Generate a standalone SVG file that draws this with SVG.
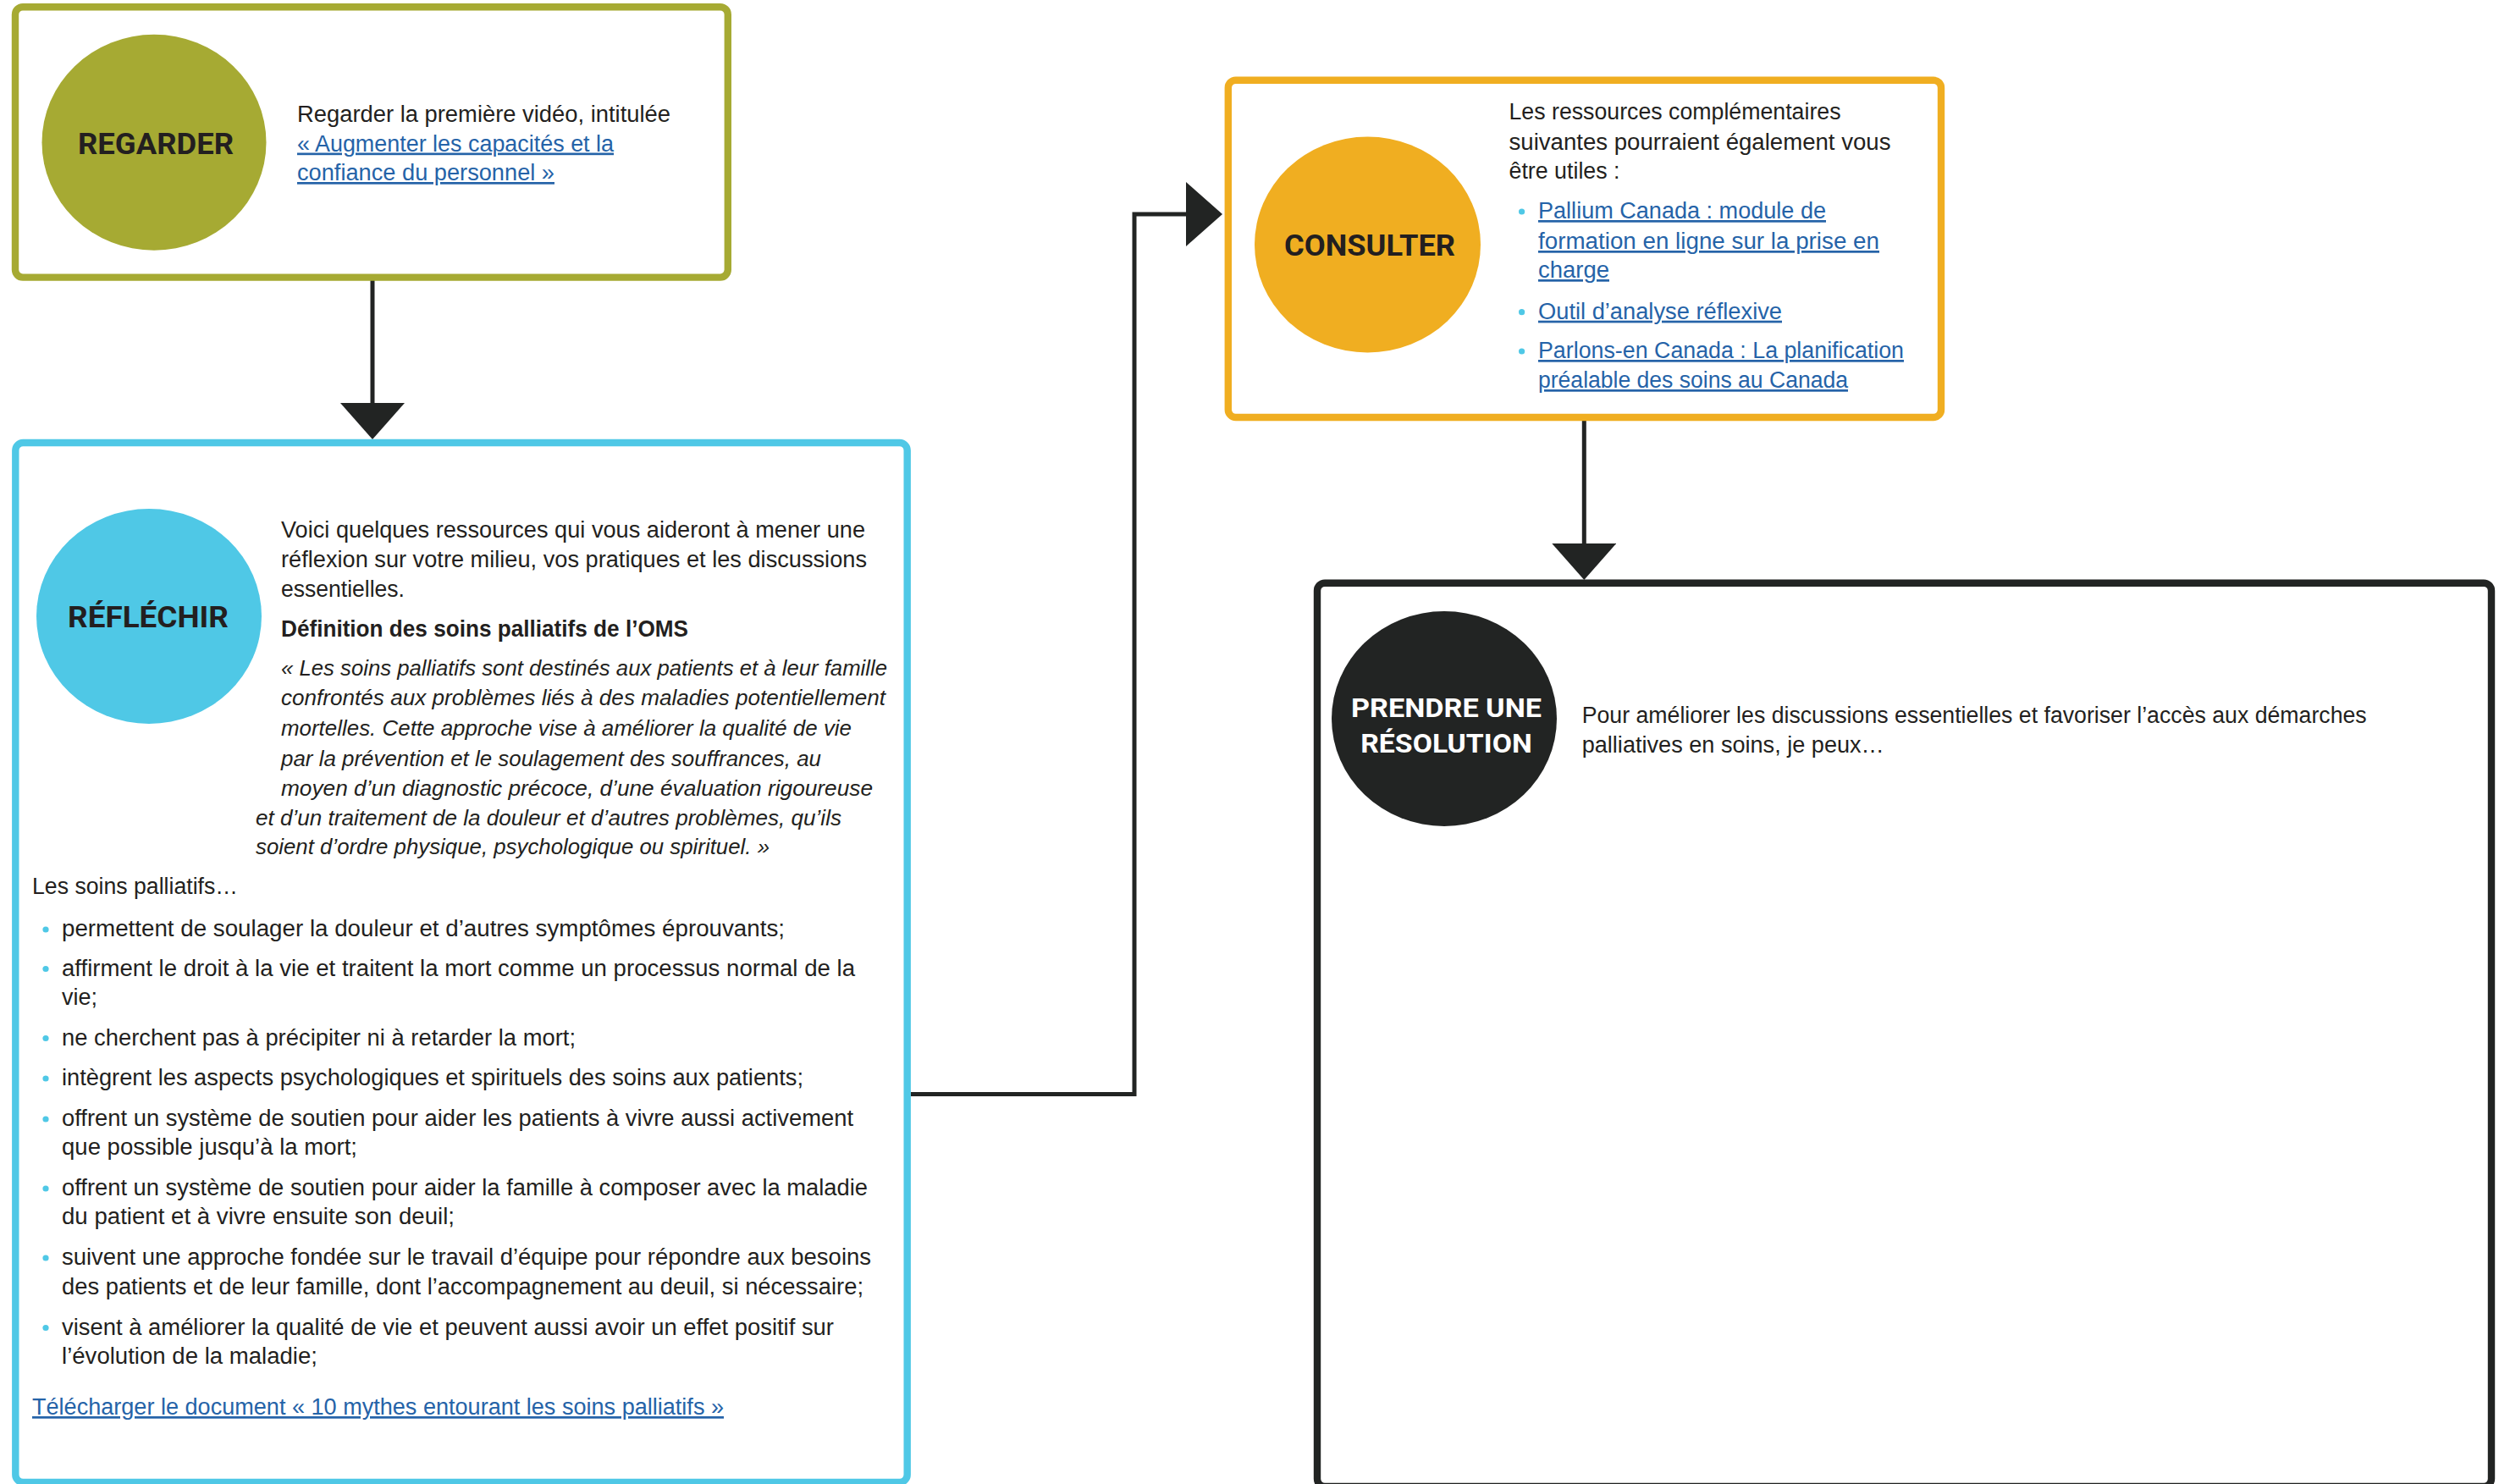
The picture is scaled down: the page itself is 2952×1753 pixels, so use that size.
<svg xmlns="http://www.w3.org/2000/svg" width="2952" height="1753" viewBox="0 0 2952 1753">
<style>
.box{fill:#ffffff;stroke-width:8.4}
.t{font-family:"Liberation Sans",Arial,sans-serif;font-size:27px;fill:#231f20}
.it{font-style:italic;font-size:26px}
.b{font-weight:bold}
.lnk{fill:#2563a8;text-decoration:underline}
.lbl{font-family:Roboto,"Liberation Sans",Arial,sans-serif;font-weight:700;font-size:35px;text-anchor:middle;fill:#231f20}
.dot{fill:#4fc8e6}
.conn{fill:none;stroke:#222423;stroke-width:5}
</style>
<defs>
<marker id="ah" markerUnits="userSpaceOnUse" markerWidth="44" markerHeight="76" viewBox="0 0 44 76" refX="0" refY="38" orient="auto">
<path d="M0,0 L43,38 L0,76 z" fill="#222423"/>
</marker>
</defs>
<rect width="2952" height="1753" fill="#ffffff"/>

<g id="connectors">
<path class="conn" d="M440,331 V476" marker-end="url(#ah)"/>
<path class="conn" d="M1076,1292.5 H1340 V253 H1401" marker-end="url(#ah)"/>
<path class="conn" d="M1871.3,497 V642" marker-end="url(#ah)"/>
</g>

<g id="regarder">
<rect class="box" x="18" y="8.2" width="841.8" height="319.4" rx="9" stroke="#a6aa33"/>
<ellipse cx="182" cy="168.3" rx="132.5" ry="127.5" fill="#a6aa33"/>
<text class="lbl" x="184" y="182.3" textLength="184" lengthAdjust="spacingAndGlyphs">REGARDER</text>
<text class="t" x="351" y="144" textLength="441" lengthAdjust="spacingAndGlyphs">Regarder la première vidéo, intitulée</text>
<text class="t lnk" x="351" y="178.5" textLength="374" lengthAdjust="spacingAndGlyphs">« Augmenter les capacités et la</text>
<text class="t lnk" x="351" y="213" textLength="304" lengthAdjust="spacingAndGlyphs">confiance du personnel »</text>
</g>

<g id="reflechir">
<rect class="box" x="18.3" y="523" width="1053.4" height="1228" rx="9" stroke="#4fc8e6"/>
<ellipse cx="176" cy="728" rx="133" ry="127" fill="#4fc8e6"/>
<text class="lbl" x="175" y="741" textLength="190" lengthAdjust="spacingAndGlyphs">RÉFLÉCHIR</text>
<text class="t" x="332" y="635" textLength="690" lengthAdjust="spacingAndGlyphs">Voici quelques ressources qui vous aideront à mener une</text>
<text class="t" x="332" y="670" textLength="692" lengthAdjust="spacingAndGlyphs">réflexion sur votre milieu, vos pratiques et les discussions</text>
<text class="t" x="332" y="705" textLength="146" lengthAdjust="spacingAndGlyphs">essentielles.</text>
<text class="t b" x="332" y="752" textLength="481" lengthAdjust="spacingAndGlyphs">Définition des soins palliatifs de l’OMS</text>
<text class="t it" x="332" y="798" textLength="716" lengthAdjust="spacingAndGlyphs">« Les soins palliatifs sont destinés aux patients et à leur famille</text>
<text class="t it" x="332" y="833" textLength="714" lengthAdjust="spacingAndGlyphs">confrontés aux problèmes liés à des maladies potentiellement</text>
<text class="t it" x="332" y="869" textLength="674" lengthAdjust="spacingAndGlyphs">mortelles. Cette approche vise à améliorer la qualité de vie</text>
<text class="t it" x="332" y="904.5" textLength="638" lengthAdjust="spacingAndGlyphs">par la prévention et le soulagement des souffrances, au</text>
<text class="t it" x="332" y="940" textLength="699" lengthAdjust="spacingAndGlyphs">moyen d’un diagnostic précoce, d’une évaluation rigoureuse</text>
<text class="t it" x="302" y="975" textLength="692" lengthAdjust="spacingAndGlyphs">et d’un traitement de la douleur et d’autres problèmes, qu’ils</text>
<text class="t it" x="302" y="1009" textLength="607" lengthAdjust="spacingAndGlyphs">soient d’ordre physique, psychologique ou spirituel. »</text>
<text class="t" x="38" y="1056" textLength="243" lengthAdjust="spacingAndGlyphs">Les soins palliatifs…</text>
<circle class="dot" cx="54" cy="1098" r="3.6"/>
<text class="t" x="73" y="1106" textLength="854" lengthAdjust="spacingAndGlyphs">permettent de soulager la douleur et d’autres symptômes éprouvants;</text>
<circle class="dot" cx="54" cy="1144.5" r="3.6"/>
<text class="t" x="73" y="1152.5" textLength="937" lengthAdjust="spacingAndGlyphs">affirment le droit à la vie et traitent la mort comme un processus normal de la</text>
<text class="t" x="73" y="1186.5">vie;</text>
<circle class="dot" cx="54" cy="1226.5" r="3.6"/>
<text class="t" x="73" y="1234.5" textLength="607" lengthAdjust="spacingAndGlyphs">ne cherchent pas à précipiter ni à retarder la mort;</text>
<circle class="dot" cx="54" cy="1274" r="3.6"/>
<text class="t" x="73" y="1282" textLength="876" lengthAdjust="spacingAndGlyphs">intègrent les aspects psychologiques et spirituels des soins aux patients;</text>
<circle class="dot" cx="54" cy="1322" r="3.6"/>
<text class="t" x="73" y="1330" textLength="935" lengthAdjust="spacingAndGlyphs">offrent un système de soutien pour aider les patients à vivre aussi activement</text>
<text class="t" x="73" y="1364" textLength="349" lengthAdjust="spacingAndGlyphs">que possible jusqu’à la mort;</text>
<circle class="dot" cx="54" cy="1404" r="3.6"/>
<text class="t" x="73" y="1412" textLength="952" lengthAdjust="spacingAndGlyphs">offrent un système de soutien pour aider la famille à composer avec la maladie</text>
<text class="t" x="73" y="1446" textLength="464" lengthAdjust="spacingAndGlyphs">du patient et à vivre ensuite son deuil;</text>
<circle class="dot" cx="54" cy="1486" r="3.6"/>
<text class="t" x="73" y="1494" textLength="956" lengthAdjust="spacingAndGlyphs">suivent une approche fondée sur le travail d’équipe pour répondre aux besoins</text>
<text class="t" x="73" y="1529" textLength="947" lengthAdjust="spacingAndGlyphs">des patients et de leur famille, dont l’accompagnement au deuil, si nécessaire;</text>
<circle class="dot" cx="54" cy="1568.5" r="3.6"/>
<text class="t" x="73" y="1576.5" textLength="912" lengthAdjust="spacingAndGlyphs">visent à améliorer la qualité de vie et peuvent aussi avoir un effet positif sur</text>
<text class="t" x="73" y="1611" textLength="302" lengthAdjust="spacingAndGlyphs">l’évolution de la maladie;</text>
<text class="t lnk" x="38" y="1671" textLength="817" lengthAdjust="spacingAndGlyphs">Télécharger le document « 10 mythes entourant les soins palliatifs »</text>
</g>

<g id="consulter">
<rect class="box" x="1450.8" y="94.7" width="842.2" height="398.3" rx="9" stroke="#f0ae21"/>
<ellipse cx="1615.5" cy="289" rx="133.5" ry="127.5" fill="#f0ae21"/>
<text class="lbl" x="1618" y="301.7" textLength="202" lengthAdjust="spacingAndGlyphs">CONSULTER</text>
<text class="t" x="1782.5" y="140.7" textLength="392" lengthAdjust="spacingAndGlyphs">Les ressources complémentaires</text>
<text class="t" x="1782.5" y="176.7" textLength="451" lengthAdjust="spacingAndGlyphs">suivantes pourraient également vous</text>
<text class="t" x="1782.5" y="210.7" textLength="131" lengthAdjust="spacingAndGlyphs">être utiles :</text>
<circle class="dot" cx="1797.6" cy="250" r="3.6"/>
<text class="t lnk" x="1817" y="258" textLength="340" lengthAdjust="spacingAndGlyphs">Pallium Canada : module de</text>
<text class="t lnk" x="1817" y="294" textLength="403" lengthAdjust="spacingAndGlyphs">formation en ligne sur la prise en</text>
<text class="t lnk" x="1817" y="328" textLength="84" lengthAdjust="spacingAndGlyphs">charge</text>
<circle class="dot" cx="1797.6" cy="368.7" r="3.6"/>
<text class="t lnk" x="1817" y="376.7" textLength="288" lengthAdjust="spacingAndGlyphs">Outil d’analyse réflexive</text>
<circle class="dot" cx="1797.6" cy="415" r="3.6"/>
<text class="t lnk" x="1817" y="423" textLength="432" lengthAdjust="spacingAndGlyphs">Parlons-en Canada : La planification</text>
<text class="t lnk" x="1817" y="458" textLength="366" lengthAdjust="spacingAndGlyphs">préalable des soins au Canada</text>
</g>

<g id="prendre">
<rect class="box" x="1556" y="688.7" width="1387" height="1067.3" rx="9" stroke="#222423" stroke-width="8.7"/>
<ellipse cx="1706" cy="849" rx="133" ry="127" fill="#222423"/>
<text class="lbl" x="1708.5" y="846.7" style="font-size:30.5px;fill:#ffffff" textLength="225" lengthAdjust="spacingAndGlyphs">PRENDRE UNE</text>
<text class="lbl" x="1708.5" y="889.3" style="font-size:30.5px;fill:#ffffff" textLength="202.5" lengthAdjust="spacingAndGlyphs">RÉSOLUTION</text>
<text class="t" x="1868.7" y="854" textLength="927" lengthAdjust="spacingAndGlyphs">Pour améliorer les discussions essentielles et favoriser l’accès aux démarches</text>
<text class="t" x="1868.7" y="889.3" textLength="357" lengthAdjust="spacingAndGlyphs">palliatives en soins, je peux…</text>
</g>
</svg>
